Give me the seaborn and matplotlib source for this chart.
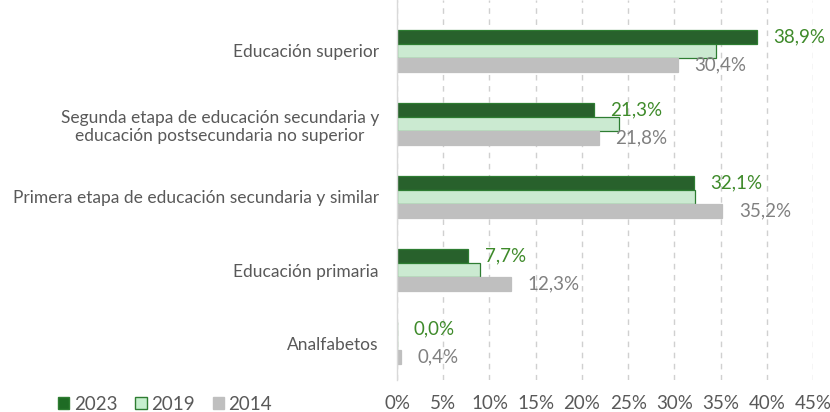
import matplotlib
matplotlib.use("Agg")
import matplotlib.pyplot as plt
import seaborn as sns
import pandas as pd
from matplotlib.patches import Patch

# ------------------------------------------------------------
# Data
# ------------------------------------------------------------
categories = [
    "Educación superior",
    "Segunda etapa de educación secundaria y\neducación postsecundaria no superior",
    "Primera etapa de educación secundaria y similar",
    "Educación primaria",
    "Analfabetos",
]
years = ["2023", "2019", "2014"]
vals_2023 = [38.9, 21.3, 32.1, 7.7, 0.0]
vals_2019 = [34.5, 24.0, 32.2, 9.0, 0.05]
vals_2014 = [30.4, 21.8, 35.2, 12.3, 0.4]
labelled_years = ["2023", "2014"]
x_ticks = [0, 5, 10, 15, 20, 25, 30, 35, 40, 45]

df = pd.DataFrame({
    "categoria": categories * 3,
    "anio": [y for y in years for _ in categories],
    "valor": vals_2023 + vals_2019 + vals_2014,
})

fill_colors = {"2023": "#1e6b24", "2019": "#c6efce", "2014": "#bfbfbf"}
edge_colors = {"2023": "#2e7d32", "2019": "#2e7d32", "2014": "#bfbfbf"}
label_colors = {"2023": "#3e8a2a", "2014": "#808080"}
text_gray = "#595959"

sns.set_style("white")
plt.rcParams["font.family"] = ["Lato", "DejaVu Sans"]

fig = plt.figure(figsize=(8.3, 4.12), dpi=100)
ax = fig.add_axes([397 / 830, 32 / 412, 416 / 830, 380 / 412])

sns.barplot(
    data=df, y="categoria", x="valor", hue="anio",
    order=categories, hue_order=years, palette=fill_colors,
    orient="h", width=0.58, ax=ax, legend=False, errorbar=None,
)

# bar edges per series
for cont, yr in zip(ax.containers, years):
    for bar in cont:
        bar.set_edgecolor(edge_colors[yr])
        bar.set_linewidth(0.9)

# data labels (only 2023 and 2014)
for cont, yr in zip(ax.containers, years):
    if yr not in labelled_years:
        continue
    for bar in cont:
        w = bar.get_width()
        y = bar.get_y() + bar.get_height() / 2
        ax.annotate(
            f"{w:.1f}%".replace(".", ","), xy=(w, y), xytext=(12, 0),
            textcoords="offset points", ha="left", va="center",
            fontsize=13.5, color=label_colors[yr],
        )

ax.set_xlim(0, 45)
ax.set_ylim(4 + 37 / 73, -51 / 73)
ax.set_xticks(x_ticks)
ax.set_xticklabels([f"{t}%" for t in x_ticks])
ax.tick_params(axis="x", length=0, labelsize=13.5, labelcolor=text_gray, pad=11)
ax.tick_params(axis="y", length=0, labelsize=12.5, labelcolor=text_gray, pad=13)
for lbl in ax.get_yticklabels():
    lbl.set_multialignment("center")
ax.set_xlabel("")
ax.set_ylabel("")

ax.grid(axis="x", linestyle=(0, (4, 4)), color="#d0d0d0", linewidth=1)
ax.set_axisbelow(True)
for side in ["top", "right", "bottom"]:
    ax.spines[side].set_visible(False)
ax.spines["left"].set_color("#d9d9d9")
ax.spines["left"].set_linewidth(1)

handles = [Patch(facecolor=fill_colors[y], edgecolor=edge_colors[y]) for y in years]
fig.legend(
    handles, years, loc="center left", bbox_to_anchor=(58 / 830, 8 / 412),
    ncol=3, frameon=False, fontsize=13.5, labelcolor=text_gray,
    borderpad=0, borderaxespad=0,
    handlelength=0.6, handleheight=0.6, handletextpad=0.25, columnspacing=0.95,
)

plt.savefig("out.png", dpi=100)
plt.close()
